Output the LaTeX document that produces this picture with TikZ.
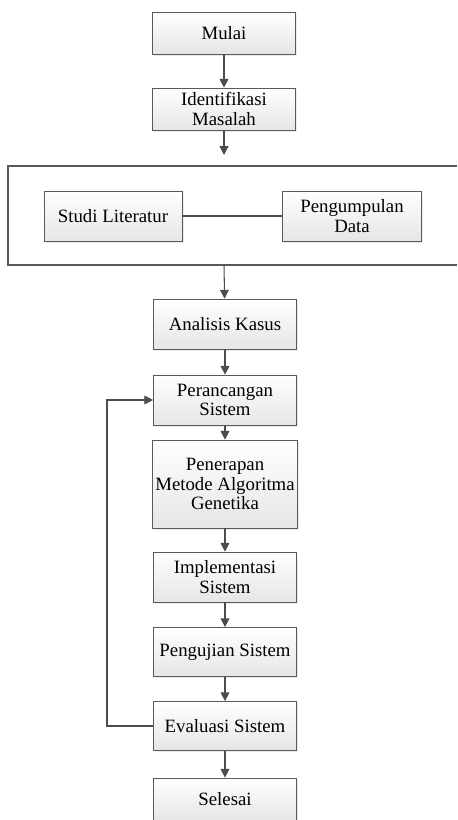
\documentclass[tikz,border=0pt]{standalone}
\usepackage{fontspec}
\setmainfont{Liberation Serif}
\usetikzlibrary{arrows.meta,shadows}

\begin{document}
\begin{tikzpicture}[x=0.02cm,y=-0.02cm,>={Triangle[length=5pt,width=5pt]},
    box/.style={rectangle,draw=black!65,top color=white,bottom color=black!10,
                drop shadow={opacity=.15,shadow xshift=1pt,shadow yshift=-1pt},
                align=center,inner sep=1pt,minimum width=2.86cm,
                font=\fontsize{10.7}{10.9}\selectfont},
    flow/.style={->,draw=black!70,line width=.6pt}]
     \useasboundingbox (0,0) rectangle (457,820);
     % main column
     \node[box,minimum height=0.84cm] (m) at (224,33) {Mulai};
     \node[box,minimum height=0.84cm] (i) at (224,109) {Identifikasi\\Masalah};
     \coordinate (it) at (224,155);
     \draw[draw=black!65,line width=.6pt] (457,166) -- (8,166) -- (8,265) -- (457,265);
     \coordinate (fb) at (224,265);
     \node[box,minimum width=2.76cm,minimum height=1cm] (s) at (113,216) {Studi Literatur};
     \node[box,minimum width=2.78cm,minimum height=1cm] (p) at (352,216) {Pengumpulan\\Data};
     \node[box,minimum height=1cm] (a) at (225,324) {Analisis Kasus};
     \node[box,minimum height=1cm] (r) at (225,400) {Perancangan\\Sistem};
     \node[box,minimum width=2.9cm,minimum height=1.76cm] (g) at (225,484) {Penerapan\\Metode Algoritma\\Genetika};
     \node[box,minimum height=1cm] (im) at (225,577) {Implementasi\\Sistem};
     \node[box,minimum height=0.98cm] (u) at (225,652) {Pengujian Sistem};
     \node[box,minimum height=0.98cm] (e) at (225,726) {Evaluasi Sistem};
     \node[box,minimum height=0.84cm] (l) at (225,799) {Selesai};
     \coordinate (k1) at (107,726); \coordinate (k2) at (107,400);
     \draw[flow] (m) -- (i) ; \draw[flow] (i) -- (it) ;
     \draw[draw=black!70,line width=.6pt] (s) -- (p) ;
     \draw[flow] (fb) -- (a) ; \draw[flow] (a) -- (r) ;
     \draw[flow] (r) -- (g) ; \draw[flow] (g) -- (im) ;
     \draw[flow] (im) -- (u) ; \draw[flow] (u) -- (e) ;
     \draw[flow] (e) -- (l) ;
     \draw[flow] (e.west) -- (k1) -- (k2) -- (r.west) ;
\end{tikzpicture}
\end{document}
